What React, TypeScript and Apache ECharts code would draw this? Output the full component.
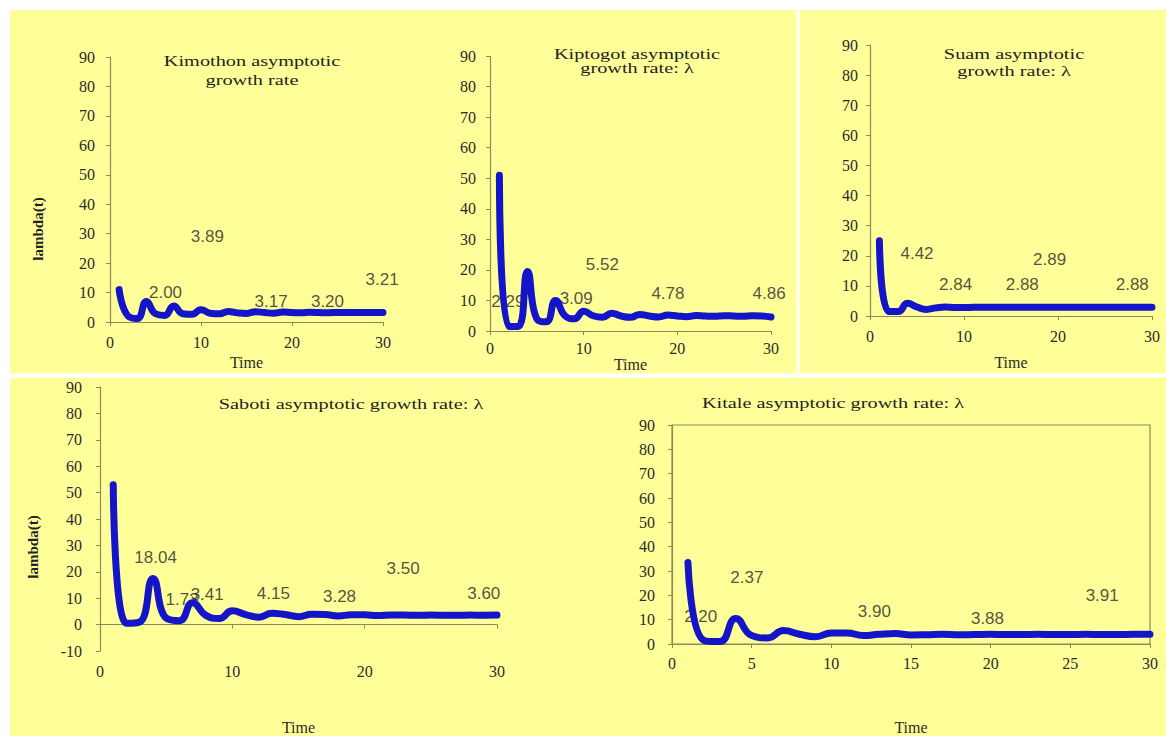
import React, { useEffect, useRef } from "react";
import * as echarts from "echarts";

// time steps 1..30
const timeSteps = [1, 2, 3, 4, 5, 6, 7, 8, 9, 10, 11, 12, 13, 14, 15, 16, 17, 18, 19, 20, 21, 22, 23, 24, 25, 26, 27, 28, 29, 30];

// lambda(t)
const kimothon = [11, 2, 1.2, 7, 2.8, 2.2, 5.4, 2.8, 2.6, 4.2, 3.0, 2.8, 3.6, 3.1, 2.9, 3.5, 3.2, 3.0, 3.4, 3.2, 3.1, 3.3, 3.2, 3.15, 3.25, 3.2, 3.2, 3.25, 3.2, 3.2];
const kiptogot = [51, 1.5, 1.5, 19.5, 4, 3, 10, 5, 4, 6.5, 5, 4.5, 5.8, 4.9, 4.5, 5.4, 4.9, 4.6, 5.2, 4.9, 4.7, 5.1, 4.9, 4.8, 5.0, 4.9, 4.8, 5.0, 4.9, 4.6];
const suam = [25, 1.5, 1.5, 4.2, 3.0, 2.2, 2.7, 3.0, 2.8, 2.8, 2.9, 2.9, 2.9, 2.9, 2.9, 2.9, 2.9, 2.9, 2.9, 2.9, 2.9, 2.9, 2.9, 2.9, 2.9, 2.9, 2.9, 2.9, 2.9, 2.9];
const saboti = [53, 0.5, 1, 17.5, 2.5, 1.5, 8.3, 3.5, 2.3, 5.2, 3.8, 2.8, 4.3, 3.8, 3.0, 3.9, 3.8, 3.3, 3.7, 3.7, 3.4, 3.6, 3.6, 3.5, 3.6, 3.55, 3.5, 3.6, 3.55, 3.6];
const kitale = [33.5, 1.5, 1, 10.5, 3.5, 2.5, 5.5, 4, 3, 4.5, 4.5, 3.5, 4, 4.3, 3.7, 3.8, 4.0, 3.8, 3.9, 4.0, 3.9, 3.9, 4.0, 3.9, 3.9, 4.0, 3.9, 3.9, 4.0, 4.0];

// annotation labels: [time, lambda, text]
const kimothonNotes = [[10.7, 29, "3.89"], [6.1, 9.9, "2.00"], [17.7, 6.8, "3.17"], [23.9, 6.8, "3.20"], [29.9, 14.3, "3.21"]];
const kiptogotNotes = [[1.9, 9.5, "2.29"], [9.2, 10.8, "3.09"], [12.0, 21.9, "5.52"], [19.0, 12.4, "4.78"], [29.8, 12.4, "4.86"]];
const suamNotes = [[5.0, 20.9, "4.42"], [19.1, 18.9, "2.89"], [9.1, 10.3, "2.84"], [16.2, 10.3, "2.88"], [27.9, 10.3, "2.88"]];
const sabotiNotes = [[4.2, 25.5, "18.04"], [6.2, 9.4, "1.73"], [8.1, 11.4, "3.41"], [13.1, 11.7, "4.15"], [18.1, 10.7, "3.28"], [22.9, 21.1, "3.50"], [29.0, 11.7, "3.60"]];
const kitaleNotes = [[1.8, 11.4, "2.20"], [4.7, 27.3, "2.37"], [12.7, 13.4, "3.90"], [19.8, 10.6, "3.88"], [27.0, 19.9, "3.91"]];

const titles = [
  "Kimothon asymptotic\ngrowth rate",
  "Kiptogot asymptotic\ngrowth rate: λ",
  "Suam asymptotic\ngrowth rate: λ",
  "Saboti asymptotic growth rate: λ",
  "Kitale asymptotic growth rate: λ",
];

const yMins = [0, 0, 0, -10, 0];
const xIntervals = [10, 10, 10, 10, 5];

const AXIS = "#8b8b5c";
const LINE = "#1414c8";
const TICK_TEXT = "#2b2b2b";
const SERIF = '"Liberation Serif", "Times New Roman", serif';
const SANS = '"Liberation Sans", Arial, sans-serif';

const panels = [
  { data: kimothon, notes: kimothonNotes, grid: { left: 110, top: 57, width: 273, height: 265 }, xm: 12, ym: 15, gap: 32, title: { x: 252, y: 71, lh: 19 } },
  { data: kiptogot, notes: kiptogotNotes, grid: { left: 490, top: 56, width: 281, height: 275 }, xm: 9, ym: 14, gap: 22, title: { x: 637, y: 61, lh: 14 } },
  { data: suam, notes: suamNotes, grid: { left: 870, top: 45, width: 282, height: 271 }, xm: 12, ym: 12, gap: 38, title: { x: 1014, y: 63, lh: 17 } },
  { data: saboti, notes: sabotiNotes, grid: { left: 100, top: 387, width: 397, height: 296 }, xm: 12, ym: 18, gap: 68, title: { x: 351, y: 404, lh: 16 } },
  { data: kitale, notes: kitaleNotes, grid: { left: 672, top: 425, width: 478, height: 221 }, xm: 11, ym: 17, gap: 75, title: { x: 833, y: 403, lh: 16 } },
];

function buildOption() {
  const grid: any[] = [];
  const xAxis: any[] = [];
  const yAxis: any[] = [];
  const series: any[] = [];
  const graphic: any[] = [
    { type: "rect", shape: { x: 10, y: 10, width: 1156, height: 726 }, style: { fill: "#FFFF99" }, silent: true, z: -10 },
    { type: "rect", shape: { x: 10, y: 373, width: 1156, height: 5 }, style: { fill: "rgba(255,255,255,0.85)" }, silent: true, z: -9 },
    { type: "rect", shape: { x: 796, y: 10, width: 4, height: 364 }, style: { fill: "rgba(255,255,255,0.75)" }, silent: true, z: -9 },
  ];

  panels.forEach((p, i) => {
    grid.push({
      ...p.grid,
      show: i === 4,
      borderColor: AXIS,
      borderWidth: 1.2,
      backgroundColor: "transparent",
      containLabel: false,
    });
    xAxis.push({
      type: "value",
      gridIndex: i,
      min: 0,
      max: 30,
      interval: xIntervals[i],
      axisLine: { show: true, onZero: true, lineStyle: { color: AXIS, width: 1.2 } },
      axisTick: { show: true, length: 4, lineStyle: { color: AXIS } },
      splitLine: { show: false },
      axisLabel: { color: TICK_TEXT, fontFamily: SERIF, fontSize: 16, margin: p.xm },
      name: "Time",
      nameLocation: "middle",
      nameGap: p.gap,
      nameTextStyle: { color: TICK_TEXT, fontFamily: SERIF, fontSize: 16 },
    });
    yAxis.push({
      type: "value",
      gridIndex: i,
      min: yMins[i],
      max: 90,
      interval: 10,
      axisLine: { show: true, onZero: false, lineStyle: { color: AXIS, width: 1.2 } },
      axisTick: { show: true, length: 4, lineStyle: { color: AXIS } },
      splitLine: { show: false },
      axisLabel: { color: TICK_TEXT, fontFamily: SERIF, fontSize: 16, margin: p.ym },
    });
    series.push({
      type: "line",
      xAxisIndex: i,
      yAxisIndex: i,
      data: timeSteps.map((t, k) => [t, p.data[k]]),
      smooth: true,
      symbol: "none",
      lineStyle: { color: LINE, width: 7, cap: "round", join: "round" },
      z: 3,
      silent: true,
    });
    series.push({
      type: "scatter",
      xAxisIndex: i,
      yAxisIndex: i,
      data: p.notes.map((n) => ({ value: [n[0], n[1]], name: n[2] })),
      symbol: "circle",
      symbolSize: 1,
      itemStyle: { color: "rgba(0,0,0,0)" },
      label: {
        show: true,
        position: "inside",
        formatter: (q: any) => q.name,
        color: "#262626",
        fontFamily: SANS,
        fontSize: 17,
      },
      labelLayout: { hideOverlap: false },
      z: 1,
      silent: true,
    });
    graphic.push({
      type: "text",
      x: p.title.x,
      y: p.title.y,
      scaleX: 1.45,
      style: {
        text: titles[i],
        font: `14px ${SERIF}`,
        fill: "#222",
        textAlign: "center",
        textVerticalAlign: "middle",
        align: "center",
        verticalAlign: "middle",
        lineHeight: p.title.lh,
      },
      silent: true,
    });
  });

  // y-axis titles
  [
    { x: 38, y: 229 },
    { x: 33, y: 547 },
  ].forEach((pos) => {
    graphic.push({
      type: "text",
      x: pos.x,
      y: pos.y,
      rotation: Math.PI / 2,
      style: {
        text: "lambda(t)",
        font: `bold 15px ${SERIF}`,
        fill: "#222",
        textAlign: "center",
        textVerticalAlign: "middle",
        align: "center",
        verticalAlign: "middle",
      },
      silent: true,
    });
  });

  return {
    animation: false,
    backgroundColor: "#ffffff",
    grid,
    xAxis,
    yAxis,
    series,
    graphic,
  };
}

export default function App() {
  const ref = useRef<HTMLDivElement>(null);
  useEffect(() => {
    if (!ref.current) return;
    const chart = echarts.init(ref.current, null, { renderer: "svg" });
    chart.setOption(buildOption() as any);
    return () => chart.dispose();
  }, []);
  return (
    <div
      ref={ref}
      style={{ position: "absolute", left: 0, top: 0, width: 1166, height: 736 }}
    />
  );
}
